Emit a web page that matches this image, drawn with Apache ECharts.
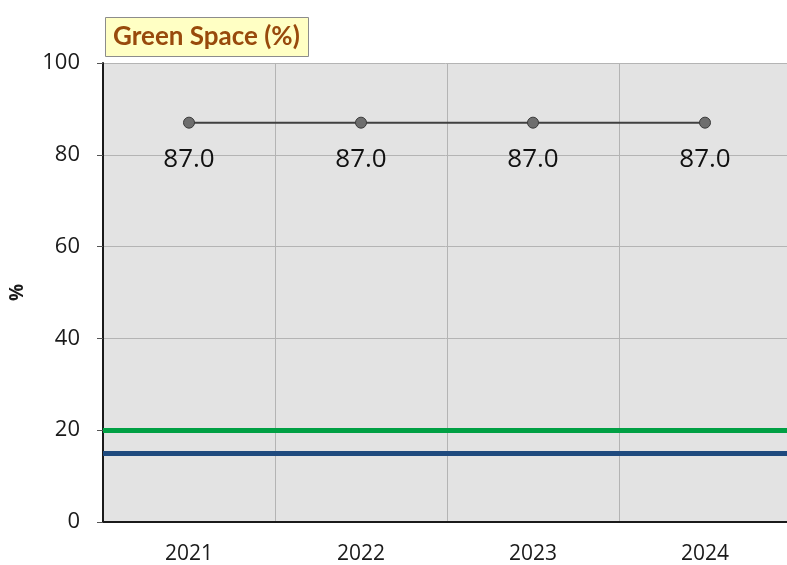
<!DOCTYPE html>
<html>
<head>
<meta charset="utf-8">
<script src="https://cdn.jsdelivr.net/npm/echarts@6/dist/echarts.min.js"></script>
<style>
  html, body { margin: 0; padding: 0; background: #fff; }
  #chart { width: 787px; height: 565px; }
</style>
</head>
<body>
<div id="chart"></div>
<script>
var years = ['2021', '2022', '2023', '2024']
var greenSpace = [87.0, 87.0, 87.0, 87.0]
var targetLevel = 20   // green reference line
var baseLevel = 15     // blue reference line
var yTicks = { min: 0, max: 100, interval: 20 }

var chart = echarts.init(document.getElementById('chart'))

chart.setOption({
  animation: false,
  backgroundColor: '#ffffff',
  title: {
    text: 'Green Space (%)',
    left: 105,
    top: 17,
    padding: [7, 9, 7, 8],
    backgroundColor: '#ffffc4',
    borderColor: '#8c8c8c',
    borderWidth: 1,
    textStyle: {
      fontFamily: 'Lato',
      fontWeight: 'bold',
      fontSize: 26,
      color: '#984a0c'
    }
  },
  grid: {
    left: 103,
    width: 688,
    top: 63,
    bottom: 43,
    outerBoundsMode: 'none',
    containLabel: false,
    show: true,
    backgroundColor: '#e3e3e3',
    borderWidth: 0
  },
  xAxis: {
    type: 'category',
    data: years,
    boundaryGap: true,
    axisLine: { show: true, lineStyle: { color: '#1a1a1a', width: 2 } },
    axisTick: { show: false },
    axisLabel: { color: '#1a1a1a', fontSize: 21, margin: 22, fontFamily: 'Open Sans' },
    splitLine: { show: true, lineStyle: { color: '#b4b4b4', width: 1 } }
  },
  yAxis: {
    type: 'value',
    min: yTicks.min,
    max: yTicks.max,
    interval: yTicks.interval,
    name: '%',
    nameLocation: 'middle',
    nameGap: 76,
    nameTextStyle: { fontSize: 19, fontWeight: 'bold', color: '#1a1a1a', fontFamily: 'Open Sans' },
    axisLine: { show: true, lineStyle: { color: '#1a1a1a', width: 2 } },
    axisTick: { show: true, length: 6, lineStyle: { color: '#555' } },
    axisLabel: { color: '#1a1a1a', fontSize: 22, margin: 23, fontFamily: 'Open Sans' },
    splitLine: { show: true, lineStyle: { color: '#b4b4b4', width: 1 } }
  },
  series: [
    {
      name: 'Green Space',
      type: 'line',
      data: greenSpace,
      symbol: 'circle',
      symbolSize: 11,
      itemStyle: { color: '#6e6e6e', borderColor: '#3a3a3a', borderWidth: 1 },
      lineStyle: { color: '#404040', width: 2 },
      label: {
        show: true,
        position: 'bottom',
        distance: 18,
        fontSize: 26,
        color: '#111',
        fontFamily: 'Open Sans',
        formatter: function (p) { return p.value.toFixed(1) }
      },
      markLine: {
        silent: true,
        symbol: 'none',
        label: { show: false },
        data: [
          { yAxis: targetLevel, lineStyle: { color: '#00a044', width: 5, type: 'solid' } },
          { yAxis: baseLevel, lineStyle: { color: '#1f4a7e', width: 5, type: 'solid' } }
        ]
      },
      z: 3
    }
  ]
})
</script>
</body>
</html>
